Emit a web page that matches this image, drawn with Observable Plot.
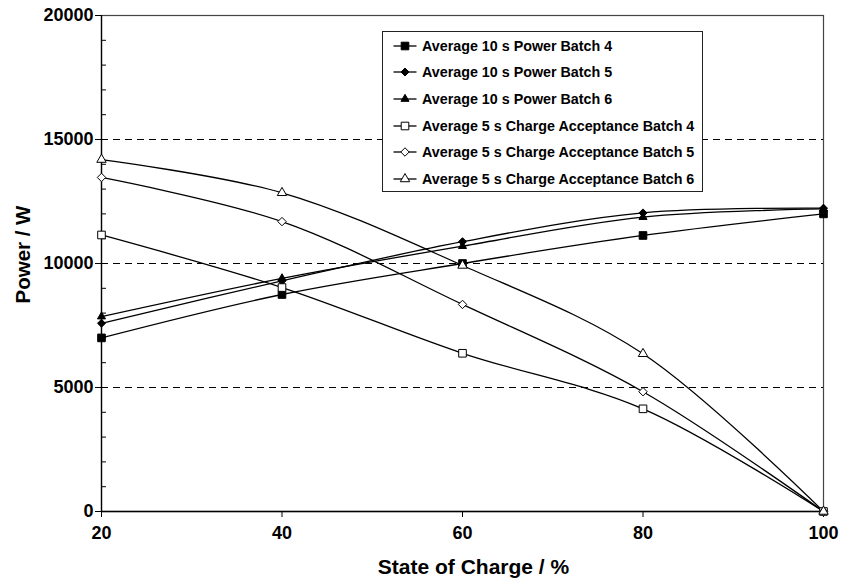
<!DOCTYPE html>
<html><head><meta charset="utf-8">
<script src="https://cdn.jsdelivr.net/npm/d3@7"></script>
<script src="https://cdn.jsdelivr.net/npm/@observablehq/plot@0.6"></script>
<style>
body{margin:0;background:#fff;font-family:"Liberation Sans",Arial,sans-serif;}
#wrap{position:relative;width:843px;height:581px;}
#legend{position:absolute;left:382px;top:31px;width:319px;height:159px;border:1.5px solid #222;background:#fff;}
.row{position:absolute;left:0;height:26px;display:flex;align-items:center;font-weight:bold;font-size:14.3px;color:#000;white-space:nowrap;}
.row svg{margin-left:10px;margin-right:5px;}
</style></head><body><div id="wrap"><div id="legend"></div></div>
<script>
const soc = [20, 40, 60, 80, 100];
const seriesNames = [
  "Average 10 s Power Batch 4",
  "Average 10 s Power Batch 5",
  "Average 10 s Power Batch 6",
  "Average 5 s Charge Acceptance Batch 4",
  "Average 5 s Charge Acceptance Batch 5",
  "Average 5 s Charge Acceptance Batch 6"
];
const power4 = [7000, 8750, 10000, 11130, 12000];
const power5 = [7590, 9300, 10880, 12040, 12230];
const power6 = [7860, 9400, 10700, 11870, 12200];
const charge4 = [11150, 9030, 6380, 4140, 0];
const charge5 = [13470, 11690, 8350, 4830, 0];
const charge6 = [14190, 12850, 9920, 6360, 0];
const yTicks = [0, 5000, 10000, 15000, 20000];
const yMinorTicks = [1000, 2000, 3000, 4000, 6000, 7000, 8000, 9000, 11000, 12000, 13000, 14000, 16000, 17000, 18000, 19000];
const gridValues = [5000, 10000, 15000];

const seriesValues = [power4, power5, power6, charge4, charge5, charge6];
const symbols = ["square", "diamond2", "triangle", "square", "diamond2", "triangle"];
const filled = [true, true, true, false, false, false];
const radii = [4.3, 3.6, 3.0, 4.3, 3.8, 3.5];

const table = seriesNames.flatMap((name, i) =>
  soc.map((x, j) => ({series: name, soc: x, value: seriesValues[i][j]})));

const dotMarks = seriesNames.map((name, i) =>
  Plot.dot(table.filter(d => d.series === name), {
    x: "soc", y: "value", symbol: symbols[i], r: radii[i],
    fill: filled[i] ? "#000" : "#fff", stroke: "#000", strokeWidth: 1
  }));

const chart = Plot.plot({
  width: 843, height: 581,
  marginLeft: 101, marginRight: 20, marginTop: 15, marginBottom: 70,
  style: {fontFamily: "'Liberation Sans', Arial, sans-serif", fontWeight: "bold", fontSize: "18px", color: "#000", background: "#fff"},
  x: {domain: [20, 100]},
  y: {domain: [0, 20000]},
  marks: [
    Plot.frame({stroke: "#444", strokeWidth: 1.2}),
    Plot.ruleY(gridValues, {stroke: "#000", strokeDasharray: "7,5", strokeWidth: 1}),
    Plot.axisY(yMinorTicks, {tickSize: -5, fill: "none", stroke: "#000", label: null}),
    Plot.axisY(yTicks, {tickSize: 6, tickPadding: 2, stroke: "#000", label: null, tickFormat: d => String(d), fontSize: 18}),
    Plot.axisX(soc, {tickSize: 6, tickPadding: 9, stroke: "#000", label: null, fontSize: 18}),
    Plot.ruleX([20], {stroke: "#000", strokeWidth: 1.3}),
    Plot.ruleY([0], {stroke: "#000", strokeWidth: 1.3}),
    Plot.line(table, {x: "soc", y: "value", z: "series", curve: "catmull-rom", stroke: "#000", strokeWidth: 1.3}),
    ...dotMarks,
    Plot.text(["Power / W"], {frameAnchor: "left", textAnchor: "middle", lineAnchor: "middle", rotate: -90, dx: -78, dy: -9, fontSize: 20.5, fontWeight: "bold"}),
    Plot.text(["State of Charge / %"], {frameAnchor: "bottom", textAnchor: "middle", lineAnchor: "middle", dy: 56, dx: 11, fontSize: 21, fontWeight: "bold"})
  ]
});
document.getElementById("wrap").prepend(chart);

const legend = document.getElementById("legend");
const rowTops = [1, 27, 54, 81, 107, 134];
seriesNames.forEach((name, i) => {
  const row = document.createElement("div");
  row.className = "row";
  row.style.top = rowTops[i] + "px";
  const typeMap = {square: d3.symbolSquare, diamond2: d3.symbolDiamond2, triangle: d3.symbolTriangle};
  const path = d3.symbol(typeMap[symbols[i]], Math.PI * radii[i] * radii[i])();
  row.innerHTML = `<svg width="24" height="14" viewBox="-12 -7 24 14"><line x1="-11.5" x2="11.5" y1="0" y2="0" stroke="#000" stroke-width="1.3"/><path d="${path}" fill="${filled[i] ? "#000" : "#fff"}" stroke="#000" stroke-width="1"/></svg><span>${name}</span>`;
  legend.appendChild(row);
});
</script>
</body></html>
